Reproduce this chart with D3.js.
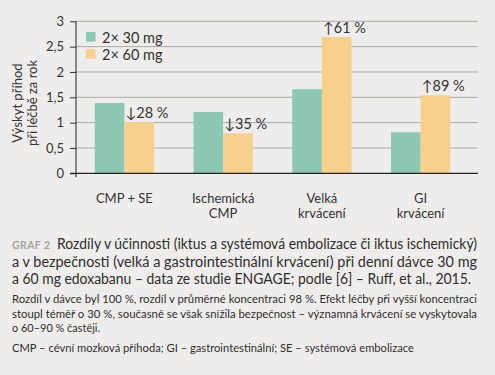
<!DOCTYPE html>
<html>
<head>
<meta charset="utf-8">
<script src="https://cdn.jsdelivr.net/npm/d3@7"></script>
<style>
  html, body { margin: 0; padding: 0; background: #eeedeb; }
  svg { display: block; font-family: Lato, "Open Sans", sans-serif; }
</style>
</head>
<body>
<div id="chart"></div>
<script>
// chart data
const categories = [["CMP + SE"], ["Ischemická", "CMP"], ["Velká", "krvácení"], ["GI", "krvácení"]];
const series = ["2× 30 mg", "2× 60 mg"];
const dose30 = [1.39, 1.21, 1.66, 0.81];
const dose60 = [1.01, 0.79, 2.69, 1.54];
const changes = ["↓28 %", "↓35 %", "↑61 %", "↑89 %"];
const yTicks = [0, 0.5, 1, 1.5, 2, 2.5, 3];

const width = 495, height = 375;
const colors = ["#8cc8b4", "#f8d08e"];

const svg = d3.select("#chart").append("svg")
    .attr("width", width)
    .attr("height", height);

const x = d3.scaleBand()
    .domain(d3.range(categories.length))
    .range([75, 470])
    .paddingInner(0.4)
    .paddingOuter(0.2);

const xSub = d3.scaleBand()
    .domain([0, 1])
    .range([0, x.bandwidth()]);

const y = d3.scaleLinear().domain([0, 3]).range([173.3, 21.3]);

// gridlines
svg.append("g").selectAll("line")
    .data(yTicks.filter(d => d > 0))
    .join("line")
    .attr("x1", 76).attr("x2", 478)
    .attr("y1", d => y(d)).attr("y2", d => y(d))
    .attr("stroke", "#a9a9a7")
    .attr("stroke-width", 1);

// bars
const groups = svg.append("g").selectAll("g")
    .data(categories.map((c, i) => i))
    .join("g")
    .attr("transform", i => `translate(${x(i)},0)`);

groups.append("rect")
    .attr("x", xSub(0))
    .attr("width", xSub.bandwidth())
    .attr("y", i => y(dose30[i]))
    .attr("height", i => y(0) - y(dose30[i]))
    .attr("fill", colors[0]);

groups.append("rect")
    .attr("x", xSub(1))
    .attr("width", xSub.bandwidth())
    .attr("y", i => y(dose60[i]))
    .attr("height", i => y(0) - y(dose60[i]))
    .attr("fill", colors[1]);

// change annotations
groups.append("text")
    .attr("x", xSub(1) + 1)
    .attr("y", i => y(dose60[i]) - 4)
    .attr("font-size", 14.5)
    .attr("fill", "#333")
    .text(i => changes[i]);

// y axis
const yAxis = svg.append("g")
    .attr("transform", "translate(76,0)")
    .call(d3.axisLeft(y).tickValues(yTicks).tickSize(6).tickPadding(6)
        .tickFormat(d => String(d).replace(".", ",")));
yAxis.select(".domain").remove();
yAxis.selectAll(".tick line").attr("stroke", "#333");
yAxis.selectAll("text").attr("font-size", 13).attr("fill", "#333")
    .attr("font-family", "Lato, sans-serif");

svg.append("line")
    .attr("x1", 76).attr("x2", 76)
    .attr("y1", y(3)).attr("y2", y(0) + 4)
    .attr("stroke", "#222");
svg.append("line")
    .attr("x1", 70).attr("x2", 478)
    .attr("y1", y(0)).attr("y2", y(0))
    .attr("stroke", "#222")
    .attr("stroke-width", 1.2);

// y title
const yTitle = svg.append("text")
    .attr("transform", "translate(25,103) rotate(-90)")
    .attr("text-anchor", "middle")
    .attr("font-size", 13)
    .attr("fill", "#333");
yTitle.append("tspan").attr("x", 0).attr("dy", -3).text("Výskyt příhod");
yTitle.append("tspan").attr("x", 0).attr("dy", 15).text("při léčbě za rok");

// category labels
groups.append("text")
    .attr("text-anchor", "middle")
    .attr("x", x.bandwidth() / 2)
    .attr("font-size", 13)
    .attr("fill", "#333")
    .selectAll("tspan")
    .data(i => categories[i])
    .join("tspan")
    .attr("x", x.bandwidth() / 2)
    .attr("y", (d, j) => 203 + j * 14.5)
    .text(d => d);

// legend
const legend = svg.append("g").attr("transform", "translate(86,32)");
series.forEach((s, i) => {
    legend.append("rect")
        .attr("x", 0).attr("y", i * 17)
        .attr("width", 9.5).attr("height", 9.5)
        .attr("fill", colors[i]);
    legend.append("text")
        .attr("x", 16).attr("y", i * 17 + 10.5)
        .attr("font-size", 14.5)
        .attr("fill", "#333")
        .text(s);
});

// caption (lines justified to the reference widths)
svg.append("text")
    .attr("x", 12).attr("y", 249)
    .attr("font-size", 10.5).attr("font-weight", "bold")
    .attr("fill", "#a3a3a1").attr("letter-spacing", 0.4)
    .text("GRAF 2");

const titleLines = [
    { x: 57, y: 249, w: 420, t: "Rozdíly v účinnosti (iktus a systémová embolizace či iktus ischemický)" },
    { x: 12, y: 266.5, w: 465, t: "a v bezpečnosti (velká a gastrointestinální krvácení) při denní dávce 30 mg" },
    { x: 12, y: 284, w: 459, t: "a 60 mg edoxabanu – data ze studie ENGAGE; podle [6] – Ruff, et al., 2015." }
];
svg.append("g").selectAll("text")
    .data(titleLines)
    .join("text")
    .attr("x", d => d.x).attr("y", d => d.y)
    .attr("font-size", 14.5)
    .attr("fill", "#2e2e2e")
    .attr("textLength", d => d.w)
    .attr("lengthAdjust", "spacingAndGlyphs")
    .text(d => d.t);

const notes = [
    { y: 303, w: 465, t: "Rozdíl v dávce byl 100 %, rozdíl v průměrné koncentraci 98 %. Efekt léčby při vyšší koncentraci" },
    { y: 317.5, w: 465, t: "stoupl téměř o 30 %, současně se však snížila bezpečnost – významná krvácení se vyskytovala" },
    { y: 332, w: 88, t: "o 60–90 % častěji." },
    { y: 352, w: 402, t: "CMP – cévní mozková příhoda; GI – gastrointestinální; SE – systémová embolizace" }
];
svg.append("g").selectAll("text")
    .data(notes)
    .join("text")
    .attr("x", 12)
    .attr("y", d => d.y)
    .attr("font-size", 11.5)
    .attr("fill", "#2e2e2e")
    .attr("textLength", d => d.w)
    .attr("lengthAdjust", "spacingAndGlyphs")
    .text(d => d.t);
</script>
</body>
</html>
